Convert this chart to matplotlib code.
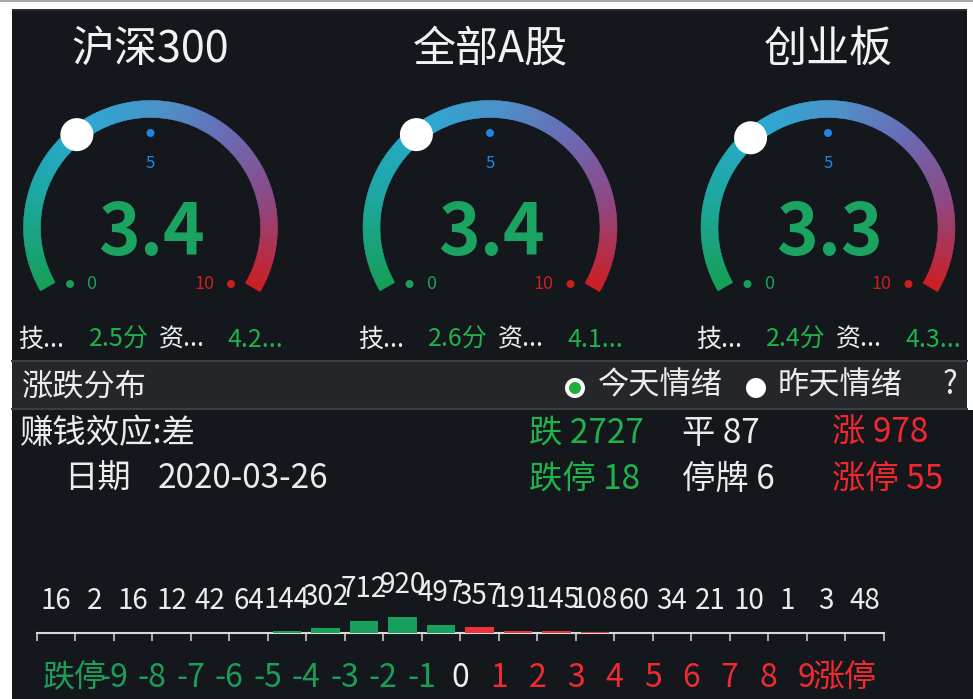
import numpy as np
import matplotlib
matplotlib.use('Agg')
import matplotlib.pyplot as plt
from matplotlib.patches import Wedge, Circle, Rectangle
from matplotlib.colors import LinearSegmentedColormap

plt.rcParams['font.family'] = ['Noto Sans CJK SC', 'DejaVu Sans']

# 三个指数的情绪仪表
gauge_names = ['沪深300', '全部A股', '创业板']
gauge_values = [3.4, 3.4, 3.3]
tech_scores = ['2.5分', '2.6分', '2.4分']
fund_scores = ['4.2...', '4.1...', '4.3...']

# 涨跌分布
bin_labels = ['跌停', '-9', '-8', '-7', '-6', '-5', '-4', '-3', '-2', '-1', '0',
              '1', '2', '3', '4', '5', '6', '7', '8', '9', '涨停']
bin_counts = [16, 2, 16, 12, 42, 64, 144, 302, 712, 920, 497,
              357, 191, 145, 108, 60, 34, 21, 10, 1, 3, 48]

stat_down = 2727
stat_flat = 87
stat_up = 978
stat_limit_down = 18
stat_suspended = 6
stat_limit_up = 55
trade_date = '2020-03-26'
money_effect = '差'

W, H = 973, 699
BG = '#14171c'
GREEN = '#1ba361'
GREEN2 = '#21b24c'
RED = '#f2282f'
WHITE = '#ececec'

fig = plt.figure(figsize=(W / 100, H / 100), dpi=100)
fig.patch.set_facecolor('white')

ax = fig.add_axes([0, 0, 1, 1])
ax.set_xlim(0, W)
ax.set_ylim(H, 0)
ax.axis('off')

# 背景
ax.add_patch(Rectangle((0, 0), W, 2, color='#a9a9a9', lw=0))
ax.add_patch(Rectangle((12, 9), 955, 402, color=BG, lw=0))
ax.add_patch(Rectangle((12, 410), W - 12, H - 410, color=BG, lw=0))
ax.add_patch(Rectangle((12, 9), 955, 1.5, color='#2b2e34', lw=0))

# 仪表
arc_cmap = LinearSegmentedColormap.from_list('arc', [
    (0.0, '#169f58'), (0.2, '#1ea8a6'), (0.36, '#2aa9d2'), (0.52, '#4d92c9'),
    (0.67, '#6a6bb5'), (0.82, '#8c4a86'), (1.0, '#cb1f26')])

centers = [150.5, 490, 828]
cy = 227.5
r_out, r_w = 127, 17
a_start, a_end = 210, -30

for cx, name, val, ts, fs in zip(centers, gauge_names, gauge_values, tech_scores, fund_scores):
    ax.text(cx, 62, name, ha='center', va='baseline', fontsize=31, color='#f2f2f2')

    n = 200
    angs = np.linspace(a_start, a_end, n + 1)
    for i in range(n):
        c = arc_cmap(i / (n - 1))
        # y轴向下，角度取反
        ax.add_patch(Wedge((cx, cy), r_out, -angs[i], -angs[i + 1] + 0.4,
                           width=r_w, facecolor=c, edgecolor=c, lw=0.3))

    a = np.deg2rad(a_start - val / 10 * (a_start - a_end))
    rm = r_out - r_w / 2
    ax.add_patch(Circle((cx + rm * np.cos(a), cy - rm * np.sin(a)), 16.5, color='white', lw=0))

    ax.add_patch(Circle((cx, 133), 4, color='#1e88e5', lw=0))
    ax.text(cx, 168, '5', ha='center', va='baseline', fontsize=12, color='#1e88e5')
    ax.add_patch(Circle((cx - 80.5, 284), 4, color='#1a9e5e', lw=0))
    ax.text(cx - 59, 289, '0', ha='center', va='baseline', fontsize=13, color='#1a9e5e')
    ax.add_patch(Circle((cx + 80.5, 284), 4, color='#c8201f', lw=0))
    ax.text(cx + 53.5, 289, '10', ha='center', va='baseline', fontsize=13, color='#c8201f')

    ax.text(cx + 1.5, 255, f'{val:.1f}', ha='center', va='baseline', fontsize=51,
            fontweight='bold', color=GREEN)

    ax.text(cx - 132, 347, '技...', ha='left', va='baseline', fontsize=18, color=WHITE)
    ax.text(cx - 62, 347, ts, ha='left', va='baseline', fontsize=18, color=GREEN2)
    ax.text(cx + 8, 347, '资...', ha='left', va='baseline', fontsize=18, color=WHITE)
    ax.text(cx + 77, 347, fs, ha='left', va='baseline', fontsize=18, color=GREEN2)

# 标题栏
ax.add_patch(Rectangle((12, 361), 955, 48, color='#252629', lw=0))
ax.plot([12, 967], [361, 361], color='#3d3e42', lw=1.5)
ax.plot([12, 967], [409, 409], color='#3d3e42', lw=1.5)
ax.text(22, 386, '涨跌分布', ha='left', va='center', fontsize=22.5, color=WHITE)
ax.add_patch(Circle((575, 388), 10, color='white', lw=0))
ax.add_patch(Circle((575, 388), 6, color='#1fae3c', lw=0))
ax.text(598, 386, '今天情绪', ha='left', va='center', fontsize=22.5, color=WHITE)
ax.add_patch(Circle((756, 388), 10, color='white', lw=0))
ax.text(778, 386, '昨天情绪', ha='left', va='center', fontsize=22.5, color=WHITE)
ax.text(950, 385, '?', ha='center', va='center', fontsize=22.5, color=WHITE)

# 统计信息
fs_info = 24
ax.text(20, 433, '赚钱效应:' + money_effect, ha='left', va='center', fontsize=fs_info, color=WHITE)
ax.text(64, 479, '日期', ha='left', va='center', fontsize=fs_info, color=WHITE)
ax.text(158, 479, trade_date, ha='left', va='center', fontsize=fs_info, color=WHITE)
ax.text(529, 433, f'跌 {stat_down}', ha='left', va='center', fontsize=fs_info, color=GREEN2)
ax.text(682, 433, f'平 {stat_flat}', ha='left', va='center', fontsize=fs_info, color=WHITE)
ax.text(832, 433, f'涨 {stat_up}', ha='left', va='center', fontsize=fs_info, color=RED)
ax.text(529, 479, f'跌停 {stat_limit_down}', ha='left', va='center', fontsize=fs_info, color=GREEN2)
ax.text(682, 479, f'停牌 {stat_suspended}', ha='left', va='center', fontsize=fs_info, color=WHITE)
ax.text(832, 479, f'涨停 {stat_limit_up}', ha='left', va='center', fontsize=fs_info, color=RED)

# 分布柱状图
x0, x1, y_axis = 36.7, 883.7, 632.7
bx = fig.add_axes([x0 / W, (H - y_axis) / H, (x1 - x0) / W, 100 / H])
bx.set_facecolor('none')
nb = len(bin_counts)
y_floor, y_top = 75, 5366
bx.set_xlim(0, nb)
bx.set_ylim(y_floor, y_top)

xs = np.arange(nb) + 0.5
bar_colors = ['#17a05d' if i <= 10 else '#f0313a' for i in range(nb)]
bx.bar(xs, bin_counts, width=0.73, color=bar_colors, zorder=3)

for xi, v in zip(xs, bin_counts):
    bx.annotate(str(v), (xi, max(v, y_floor)), xytext=(0, 17), textcoords='offset points',
                ha='center', va='baseline', fontsize=20, color=WHITE, annotation_clip=False)

for s in ['top', 'left', 'right']:
    bx.spines[s].set_visible(False)
bx.spines['bottom'].set_color('#d9d9d9')
bx.spines['bottom'].set_linewidth(1.5)
bx.set_yticks([])
bx.set_xticks(np.arange(nb + 1))
bx.set_xticklabels([''] + bin_labels + [''])
bx.tick_params(axis='x', direction='out', length=5.8, width=1.1, colors='#d9d9d9',
               pad=15, labelsize=23)
for i, lab in enumerate(bx.get_xticklabels()):
    j = i - 1
    if j < 10:
        lab.set_color('#1a9e5a')
    elif j == 10:
        lab.set_color('#f0f0f0')
    else:
        lab.set_color('#f02a33')

fig.savefig('out.png', dpi=100, facecolor=fig.get_facecolor())
